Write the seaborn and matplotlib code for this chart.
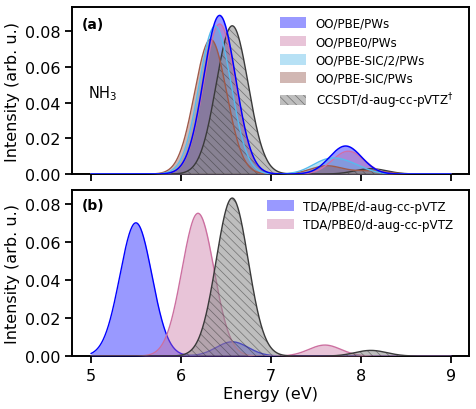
import numpy as np
import pandas as pd
import matplotlib
matplotlib.use("Agg")
import matplotlib.pyplot as plt
import seaborn as sns
from matplotlib.patches import Patch

# ---- data: Gaussian-broadened stick spectra (peak energies eV, heights) ----
energy_min, energy_max = 5.0, 9.0
sigma = 0.178

a_labels = ["OO/PBE/PWs", "OO/PBE0/PWs", "OO/PBE-SIC/2/PWs", "OO/PBE-SIC/PWs",
            "CCSDT/d-aug-cc-pVTZ$^{\\dagger}$"]
a_pbe_pos = [6.43, 7.83]
a_pbe_h = [0.0888, 0.0157]
a_pbe0_pos = [6.43, 7.86]
a_pbe0_h = [0.084, 0.0128]
a_sic2_pos = [6.38, 7.62, 7.88]
a_sic2_h = [0.0828, 0.0070, 0.0045]
a_sic_pos = [6.33, 7.62, 8.10]
a_sic_h = [0.0754, 0.0046, 0.0018]
ccsdt_pos = [6.57, 8.11]
ccsdt_h = [0.083, 0.0030]

b_labels = ["TDA/PBE/d-aug-cc-pVTZ", "TDA/PBE0/d-aug-cc-pVTZ"]
b_pbe_pos = [5.50, 6.57]
b_pbe_h = [0.070, 0.0075]
b_pbe0_pos = [6.19, 7.60]
b_pbe0_h = [0.075, 0.0058]

xticks = [5, 6, 7, 8, 9]
yticks = [0.00, 0.02, 0.04, 0.06, 0.08]

# ---- style ----
c_blue = "#0000ff"
c_pink = "#c66c9e"
c_cyan = "#4db6e6"
c_brown = "#8e4d41"
c_gray = "#8a8a8a"
HATCH = "\\\\\\\\"

sns.set_theme(style="ticks")
plt.rcParams["font.family"] = ["DejaVu Sans"]
plt.rcParams["hatch.linewidth"] = 0.5
for k in ["text.color", "axes.labelcolor", "xtick.color", "ytick.color",
          "axes.edgecolor"]:
    plt.rcParams[k] = "black"

E = np.linspace(energy_min, energy_max, 801)


def spectrum(pos, h):
    y = np.zeros_like(E)
    for p, a in zip(pos, h):
        y += a * np.exp(-0.5 * ((E - p) / sigma) ** 2)
    return y


fig = plt.figure(figsize=(4.77, 4.10), dpi=100)
ax_a = fig.add_axes([0.151, 0.573, 0.832, 0.407])
ax_b = fig.add_axes([0.151, 0.129, 0.832, 0.405], sharex=ax_a)


def draw(ax, pos, h, color, line_color, alpha=0.4, hatch=None, lw=1.0, z=2,
         zl=None):
    y = spectrum(pos, h)
    df = pd.DataFrame({"E": E, "I": y})
    if hatch:
        ax.fill_between(df["E"], 0, df["I"], facecolor=color, edgecolor="#303030",
                        alpha=alpha, hatch=hatch, linewidth=0, zorder=z)
    else:
        ax.fill_between(df["E"], 0, df["I"], color=color, alpha=alpha,
                        linewidth=0, zorder=z)
    sns.lineplot(data=df, x="E", y="I", ax=ax, color=line_color, lw=lw,
                 zorder=(z + 0.5) if zl is None else zl, legend=False)


# panel (a): fills in legend order, coloured outlines above
draw(ax_a, a_pbe_pos, a_pbe_h, c_blue, c_blue, z=2, lw=1.1, zl=10)
draw(ax_a, a_pbe0_pos, a_pbe0_h, c_pink, "#d070a8", z=3, zl=9)
draw(ax_a, a_sic2_pos, a_sic2_h, c_cyan, "#55bbee", z=4, zl=9.5)
draw(ax_a, a_sic_pos, a_sic_h, c_brown, "#a05a4a", z=5, zl=8)
draw(ax_a, ccsdt_pos, ccsdt_h, c_gray, "#3a3a3a", alpha=0.55, hatch=HATCH, z=6,
     zl=7)

handles_a = [
    Patch(facecolor=c_blue, alpha=0.4, edgecolor="none"),
    Patch(facecolor=c_pink, alpha=0.4, edgecolor="none"),
    Patch(facecolor=c_cyan, alpha=0.4, edgecolor="none"),
    Patch(facecolor=c_brown, alpha=0.4, edgecolor="none"),
    Patch(facecolor=c_gray, alpha=0.55, edgecolor="#303030", hatch=HATCH, linewidth=0),
]
ax_a.legend(handles_a, a_labels, loc="upper right", frameon=False, fontsize=8.6,
            handlelength=2.2, handleheight=1.0, labelspacing=0.45,
            borderaxespad=0.4, bbox_to_anchor=(0.985, 1.0))

# panel (b)
draw(ax_b, b_pbe_pos, b_pbe_h, c_blue, c_blue, z=3, lw=1.0)
draw(ax_b, b_pbe0_pos, b_pbe0_h, c_pink, "#cc6fa0", z=4)
draw(ax_b, ccsdt_pos, ccsdt_h, c_gray, "#3a3a3a", alpha=0.55, hatch=HATCH, z=5)

handles_b = [
    Patch(facecolor=c_blue, alpha=0.4, edgecolor="none"),
    Patch(facecolor=c_pink, alpha=0.4, edgecolor="none"),
]
ax_b.legend(handles_b, b_labels, loc="upper right", frameon=False, fontsize=8.6,
            handlelength=2.2, handleheight=1.0, labelspacing=0.45,
            borderaxespad=0.4, bbox_to_anchor=(0.985, 1.0))

for ax in (ax_a, ax_b):
    ax.set_xlim(4.79, 9.2)
    ax.set_xticks(xticks)
    ax.set_yticks(yticks)
    ax.set_yticklabels([f"{v:.2f}" for v in yticks])
    ax.set_ylabel("Intensity (arb. u.)", fontsize=11.5, labelpad=3)
    ax.tick_params(axis="both", which="major", labelsize=11.5, length=5,
                   width=1.3, direction="out", color="black")
    for s in ax.spines.values():
        s.set_linewidth(1.4)
        s.set_color("black")
        s.set_visible(True)

ax_a.set_ylim(0, 0.0934)
ax_b.set_ylim(0, 0.0872)
ax_a.set_xlabel("")
ax_a.tick_params(axis="x", labelbottom=False)
ax_b.set_xlabel("Energy (eV)", fontsize=11.5, labelpad=2)

ax_a.text(0.025, 0.94, "(a)", transform=ax_a.transAxes, fontsize=10,
          fontweight="bold", va="top", ha="left")
ax_a.text(0.04, 0.49, "NH$_3$", transform=ax_a.transAxes, fontsize=10.5,
          va="center", ha="left")
ax_b.text(0.025, 0.95, "(b)", transform=ax_b.transAxes, fontsize=10,
          fontweight="bold", va="top", ha="left")

fig.savefig("out.png", dpi=100)
